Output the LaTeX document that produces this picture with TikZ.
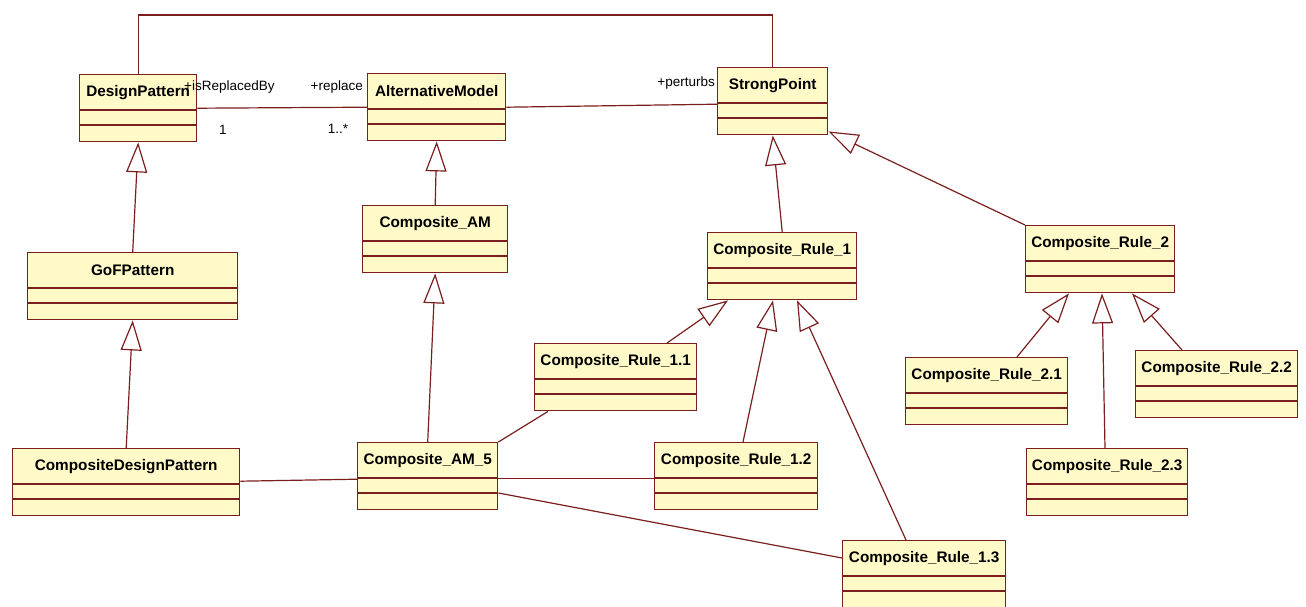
\documentclass[tikz,border=0pt]{standalone}
\usepackage{fontspec}
\setmainfont{Liberation Sans}
\usetikzlibrary{arrows.meta,calc}

\definecolor{umlline}{RGB}{122,30,30}
\definecolor{umlfill}{RGB}{255,250,200}

\tikzset{
  classbox/.style={draw=umlline, fill=umlfill, line width=1.4pt, rectangle,
    inner sep=0pt, anchor=north west, minimum height=67pt},
  compline/.style={draw=umlline, line width=1.4pt},
  classname/.style={font=\bfseries\fontsize{15.3}{17}\selectfont, inner sep=0pt},
  assoc/.style={draw=umlline, line width=1.2pt},
  gen/.style={draw=umlline, line width=1.2pt,
    -{Triangle[open, length=30pt, width=21pt, line width=1.2pt]}},
  role/.style={font=\fontsize{13.5}{15}\selectfont, inner sep=0pt},
}

% UML class with empty attribute and operation compartments
% #1 node name, #2 left x, #3 top y, #4 width, #5 class name
\newcommand{\umlclass}[5]{%
  \node[classbox, minimum width=#4pt] (#1) at (#2,#3) {};
  \draw[compline] ([yshift=-36pt]#1.north west) -- ([yshift=-36pt]#1.north east);
  \draw[compline] ([yshift=-51pt]#1.north west) -- ([yshift=-51pt]#1.north east);
  \node[classname] (#1-name) at ([yshift=-18.5pt]#1.north) {#5};
}

\begin{document}
\begin{tikzpicture}[x=1pt, y=-1pt]
  \useasboundingbox (0,0) rectangle (1306,606);
  \fill[white] (0,0) rectangle (1306,606);
  \clip (0,0) rectangle (1306,606);

  % classes
  \umlclass{DP}{79}{74}{117}{DesignPattern}
  \umlclass{AM}{367}{73}{138}{AlternativeModel}
  \umlclass{SP}{717}{67}{110}{StrongPoint}
  \umlclass{GoF}{27}{252}{210}{GoFPattern}
  \umlclass{CAM}{362}{205}{145}{Composite\_AM}
  \umlclass{CR1}{707}{232}{149}{Composite\_Rule\_1}
  \umlclass{CR2}{1025}{225}{149}{Composite\_Rule\_2}
  \umlclass{CDP}{12}{448}{227}{CompositeDesignPattern}
  \umlclass{CAMfive}{357}{442}{140}{Composite\_AM\_5}
  \umlclass{CRoneone}{534}{343}{162}{Composite\_Rule\_1.1}
  \umlclass{CRonetwo}{654}{442}{163}{Composite\_Rule\_1.2}
  \umlclass{CRonethree}{842}{540}{163}{Composite\_Rule\_1.3}
  \umlclass{CRtwoone}{905}{357}{162}{Composite\_Rule\_2.1}
  \umlclass{CRtwotwo}{1135}{350}{162}{Composite\_Rule\_2.2}
  \umlclass{CRtwothree}{1026}{448}{161}{Composite\_Rule\_2.3}

  % associations
  \coordinate (toprow) at (0,15);
  \draw[assoc] (DP.north) -- (DP.north |- toprow) -- (SP.north |- toprow) -- (SP.north);
  \draw[assoc] (DP.east) -- (AM.west);
  \draw[assoc] (AM.east) -- ([yshift=-3pt]SP.west);
  \draw[assoc] ([yshift=1pt]CDP.east) -- ([yshift=-3pt]CAMfive.west);
  \draw[assoc] (CAMfive.north east) -- ([xshift=14pt]CRoneone.south west);
  \draw[assoc] ([yshift=-2.5pt]CAMfive.east) -- ([yshift=-2.5pt]CRonetwo.west);
  \draw[assoc] ([yshift=-51pt]CAMfive.north east) -- ([yshift=-18pt]CRonethree.north west);

  % association end labels
  \node[role, anchor=west] (lblRepBy) at (184,87) {+isReplacedBy};
  \node[role, anchor=east] (lblRep) at (363,87) {+replace};
  \node[role] (lblOne) at (223,130) {1};
  \node[role] (lblMany) at (338,129) {1..*};
  \node[role, anchor=east] (lblPert) at (715,83) {+perturbs};

  % generalizations
  \draw[gen] (GoF.north) -- (DP.south);
  \draw[gen] (CDP.north) -- (GoF.south);
  \draw[gen] (CAM.north) -- (AM.south);
  \draw[gen] (CAMfive.north) -- (CAM.south);
  \draw[gen] (CR1.north) -- (SP.south);
  \draw[gen] (CR2.north west) -- ([yshift=4pt]SP.south east);
  \draw[gen] ([xshift=133pt]CRoneone.north west) -- ([xshift=21pt]CR1.south west);
  \draw[gen] ([xshift=89pt]CRonetwo.north west) -- ([xshift=66pt]CR1.south west);
  \draw[gen] ([xshift=64pt]CRonethree.north west) -- ([xshift=90pt]CR1.south west);
  \draw[gen] ([xshift=112pt]CRtwoone.north west) -- ([xshift=44pt]CR2.south west);
  \draw[gen] ([xshift=79pt]CRtwothree.north west) -- ([xshift=77pt]CR2.south west);
  \draw[gen] ([xshift=47pt]CRtwotwo.north west) -- ([xshift=107pt]CR2.south west);
\end{tikzpicture}
\end{document}
